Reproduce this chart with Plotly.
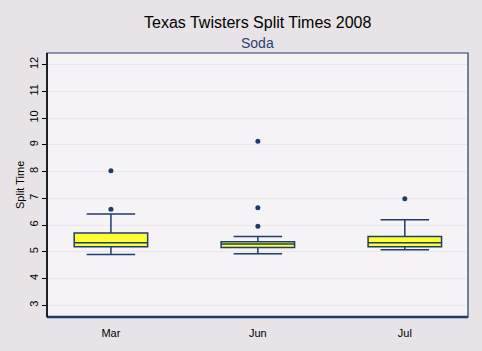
import plotly.graph_objects as go

months = ["Mar", "Jun", "Jul"]
q1 = [5.19, 5.16, 5.19]
median = [5.34, 5.29, 5.34]
q3 = [5.71, 5.38, 5.57]
lower_fence = [4.90, 4.93, 5.08]
upper_fence = [6.42, 5.57, 6.20]
outlier_month = ["Mar", "Mar", "Jun", "Jun", "Jun", "Jul"]
outlier_value = [8.03, 6.59, 9.14, 6.65, 5.96, 6.99]

navy = "#1f3d6b"

fig = go.Figure()
fig.add_trace(go.Box(
    x=months, q1=q1, median=median, q3=q3,
    lowerfence=lower_fence, upperfence=upper_fence,
    fillcolor="#ffff33", line=dict(color=navy, width=1.5),
    width=0.5, whiskerwidth=0.66, boxpoints=False, showlegend=False,
))
fig.add_trace(go.Scatter(
    x=outlier_month, y=outlier_value, mode="markers",
    marker=dict(symbol="circle", size=5, color=navy),
    showlegend=False, hoverinfo="y",
))

fig.update_layout(
    width=482, height=351,
    margin=dict(l=47, r=14, t=53, b=32),
    paper_bgcolor="#e7e3e7", plot_bgcolor="#f6f3f6",
    font=dict(family="Liberation Sans, Arial, sans-serif", size=11, color="black"),
    annotations=[
        dict(text="Texas Twisters Split Times 2008", xref="paper", yref="paper",
             x=0.5, y=1 + 31 / 266, xanchor="center", yanchor="middle",
             showarrow=False, font=dict(size=16, color="black")),
        dict(text="Soda", xref="paper", yref="paper",
             x=0.5, y=1 + 10 / 266, xanchor="center", yanchor="middle",
             showarrow=False, font=dict(size=14, color="#2a3f78")),
        dict(text="Split Time", xref="paper", yref="paper",
             x=-27 / 421, y=0.5, xanchor="center", yanchor="middle",
             textangle=-90, showarrow=False, font=dict(size=11, color="black")),
    ],
    xaxis=dict(
        type="category", range=[-0.435, 2.43], showgrid=False,
        showline=False, ticks="outside", ticklen=6, tickcolor="rgba(0,0,0,0)",
        tickfont=dict(size=11),
    ),
    yaxis=dict(
        range=[2.565, 12.435], dtick=1, tick0=0,
        showgrid=True, gridcolor="#ebe6eb", gridwidth=1,
        zeroline=False, showline=False, ticks="outside", ticklen=4,
        tickcolor="black", tickangle=-90, tickfont=dict(size=11),
    ),
    shapes=[
        dict(type="rect", xref="paper", yref="paper", x0=0, x1=1, y0=0, y1=1,
             line=dict(color=navy, width=1.2), layer="above"),
        dict(type="line", xref="paper", yref="paper", x0=0, x1=1, y0=0, y1=0,
             line=dict(color=navy, width=2.5), layer="above"),
        dict(type="line", xref="paper", yref="paper", x0=0, x1=0, y0=0, y1=1,
             line=dict(color="black", width=1.5), layer="above"),
    ],
)

fig.write_html("out.html")
